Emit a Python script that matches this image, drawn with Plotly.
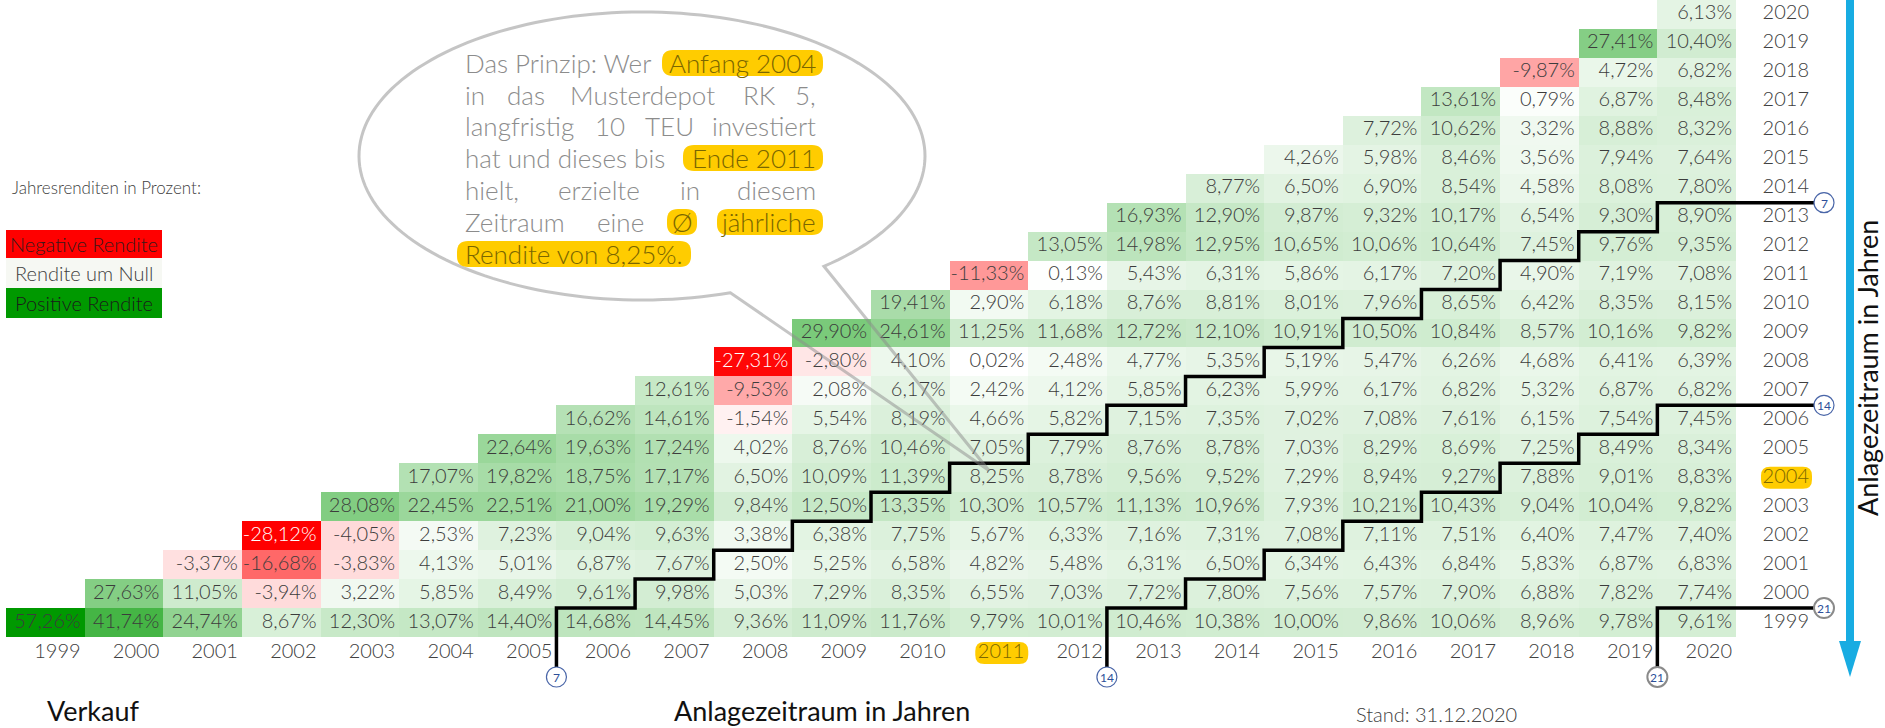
import numpy as np
import plotly.graph_objects as go

# ---------------- data ----------------
years = list(range(1999, 2021))          # Kaufjahr (Zeilen) / Verkaufsjahr (Spalten)
year_labels = [str(y) for y in years]

# durchschnittliche jährliche Rendite in %, je Kaufjahr, für Verkaufsjahr = Kaufjahr ... 2020
start_1999 = [57.26, 41.74, 24.74, 8.67, 12.30, 13.07, 14.40, 14.68, 14.45, 9.36, 11.09,
              11.76, 9.79, 10.01, 10.46, 10.38, 10.00, 9.86, 10.06, 8.96, 9.78, 9.61]
start_2000 = [27.63, 11.05, -3.94, 3.22, 5.85, 8.49, 9.61, 9.98, 5.03, 7.29, 8.35, 6.55,
              7.03, 7.72, 7.80, 7.56, 7.57, 7.90, 6.88, 7.82, 7.74]
start_2001 = [-3.37, -16.68, -3.83, 4.13, 5.01, 6.87, 7.67, 2.50, 5.25, 6.58, 4.82, 5.48,
              6.31, 6.50, 6.34, 6.43, 6.84, 5.83, 6.87, 6.83]
start_2002 = [-28.12, -4.05, 2.53, 7.23, 9.04, 9.63, 3.38, 6.38, 7.75, 5.67, 6.33, 7.16,
              7.31, 7.08, 7.11, 7.51, 6.40, 7.47, 7.40]
start_2003 = [28.08, 22.45, 22.51, 21.00, 19.29, 9.84, 12.50, 13.35, 10.30, 10.57, 11.13,
              10.96, 7.93, 10.21, 10.43, 9.04, 10.04, 9.82]
start_2004 = [17.07, 19.82, 18.75, 17.17, 6.50, 10.09, 11.39, 8.25, 8.78, 9.56, 9.52, 7.29,
              8.94, 9.27, 7.88, 9.01, 8.83]
start_2005 = [22.64, 19.63, 17.24, 4.02, 8.76, 10.46, 7.05, 7.79, 8.76, 8.78, 7.03, 8.29,
              8.69, 7.25, 8.49, 8.34]
start_2006 = [16.62, 14.61, -1.54, 5.54, 8.19, 4.66, 5.82, 7.15, 7.35, 7.02, 7.08, 7.61,
              6.15, 7.54, 7.45]
start_2007 = [12.61, -9.53, 2.08, 6.17, 2.42, 4.12, 5.85, 6.23, 5.99, 6.17, 6.82, 5.32,
              6.87, 6.82]
start_2008 = [-27.31, -2.80, 4.10, 0.02, 2.48, 4.77, 5.35, 5.19, 5.47, 6.26, 4.68, 6.41, 6.39]
start_2009 = [29.90, 24.61, 11.25, 11.68, 12.72, 12.10, 10.91, 10.50, 10.84, 8.57, 10.16, 9.82]
start_2010 = [19.41, 2.90, 6.18, 8.76, 8.81, 8.01, 7.96, 8.65, 6.42, 8.35, 8.15]
start_2011 = [-11.33, 0.13, 5.43, 6.31, 5.86, 6.17, 7.20, 4.90, 7.19, 7.08]
start_2012 = [13.05, 14.98, 12.95, 10.65, 10.06, 10.64, 7.45, 9.76, 9.35]
start_2013 = [16.93, 12.90, 9.87, 9.32, 10.17, 6.54, 9.30, 8.90]
start_2014 = [8.77, 6.50, 6.90, 8.54, 4.58, 8.08, 7.80]
start_2015 = [4.26, 5.98, 8.46, 3.56, 7.94, 7.64]
start_2016 = [7.72, 10.62, 3.32, 8.88, 8.32]
start_2017 = [13.61, 0.79, 6.87, 8.48]
start_2018 = [-9.87, 4.72, 6.82]
start_2019 = [27.41, 10.40]
start_2020 = [6.13]

rows_by_start = [start_1999, start_2000, start_2001, start_2002, start_2003, start_2004,
                 start_2005, start_2006, start_2007, start_2008, start_2009, start_2010,
                 start_2011, start_2012, start_2013, start_2014, start_2015, start_2016,
                 start_2017, start_2018, start_2019, start_2020]

holding_periods = [7, 14, 21]
example_start, example_end = 2004, 2011
legend_labels = ["Negative Rendite", "Rendite um Null", "Positive Rendite"]

# ---------------- styles / geometry ----------------
FONT = "Lato"
RED, WHITE, GREEN = "#FF0000", "#FFFFFF", "#009900"
YELLOW = "#FFCC00"
HL_TEXT = "#7a6600"
TXT = "#3c3c3c"
FIG_W, FIG_H = 1885, 728
TABLE_LEFT, TABLE_RIGHT, TABLE_TOP, TABLE_BOTTOM = 6, 1736, 0, 637
n = len(years)
W = (TABLE_RIGHT - TABLE_LEFT) / n
H = (TABLE_BOTTOM - TABLE_TOP) / n
PAD = 4


def dx(px):
    return years[0] - 0.5 + (px - TABLE_LEFT) / W


def dy(py):
    return years[-1] + 0.5 - (py - TABLE_TOP) / H


def px_x(d):
    return TABLE_LEFT + (d - (years[0] - 0.5)) * W


def px_y(d):
    return TABLE_TOP + (years[-1] + 0.5 - d) * H


def fmt(v):
    return f"{v:.2f}".replace('.', ',') + '%'


# matrix
z = [[None] * n for _ in range(n)]
for j, row in enumerate(rows_by_start):
    for k, v in enumerate(row):
        z[j][j + k] = v
vals = [v for row in rows_by_start for v in row]
zmin, zmax = min(vals), max(vals)
mid = (0 - zmin) / (zmax - zmin)

fig = go.Figure()
fig.add_trace(go.Heatmap(x=years, y=years, z=z, zmin=zmin, zmax=zmax,
                         colorscale=[[0, RED], [mid, WHITE], [1, GREEN]],
                         showscale=False, hoverinfo='skip'))

# cell texts (right aligned)
tx, ty, tt, tc = [], [], [], []
for j, row in enumerate(rows_by_start):
    for k, v in enumerate(row):
        tx.append(years[j + k] + 0.5 - PAD / W)
        ty.append(years[j])
        tt.append(fmt(v))
        tc.append('white' if v < -20 else TXT)
fig.add_trace(go.Scatter(x=tx, y=ty, text=tt, mode='text', textposition='middle left',
                         textfont=dict(family=FONT, size=20, color=tc, weight=300),
                         hoverinfo='skip', showlegend=False))

# bottom year labels (Verkaufsjahr)
fig.add_trace(go.Scatter(x=[y + 0.5 - PAD / W for y in years], y=[dy(653)] * n,
                         text=year_labels, mode='text', textposition='middle left',
                         textfont=dict(family=FONT, size=20, weight=300,
                                       color=[HL_TEXT if y == example_end else '#404040' for y in years]),
                         hoverinfo='skip', showlegend=False))
# right year labels (Kaufjahr)
fig.add_trace(go.Scatter(x=[dx(1809)] * n, y=years, text=year_labels, mode='text',
                         textposition='middle left',
                         textfont=dict(family=FONT, size=20, weight=300,
                                       color=[HL_TEXT if y == example_start else '#404040' for y in years]),
                         hoverinfo='skip', showlegend=False))

shapes = []
annotations = []


def pill(x0, x1, y0, y1, r=10, color=YELLOW, layer='above'):
    ry = min(r, (y1 - y0) / 2)
    rx = r
    p = (f"M {dx(x0 + rx)},{dy(y0)} L {dx(x1 - rx)},{dy(y0)} Q {dx(x1)},{dy(y0)} {dx(x1)},{dy(y0 + ry)} "
         f"L {dx(x1)},{dy(y1 - ry)} Q {dx(x1)},{dy(y1)} {dx(x1 - rx)},{dy(y1)} "
         f"L {dx(x0 + rx)},{dy(y1)} Q {dx(x0)},{dy(y1)} {dx(x0)},{dy(y1 - ry)} "
         f"L {dx(x0)},{dy(y0 + ry)} Q {dx(x0)},{dy(y0)} {dx(x0 + rx)},{dy(y0)} Z")
    shapes.append(dict(type='path', path=p, xref='x', yref='y', fillcolor=color,
                       line=dict(width=0), layer=layer))


def ann(text, px, py, size, color, xanchor='left', weight=300, angle=0):
    annotations.append(dict(text=text, x=dx(px), y=dy(py), xref='x', yref='y',
                            xanchor=xanchor, yanchor='middle', showarrow=False,
                            textangle=angle,
                            font=dict(family=FONT, size=size, color=color, weight=weight)))


# highlights of example labels
xr = px_x(example_end + 0.5) - PAD + 4
pill(xr - 53, xr, 642, 664, r=9, layer='below')
yc = px_y(example_start)
pill(1761, 1812, yc - 11, yc + 11, r=9, layer='below')

# staircase lines for holding periods
for N in holding_periods:
    b0 = years[0] + N - 1 + 0.5
    last = years[-1] - N
    pts = [(b0, dy(667))]
    for s in range(years[0], last + 1):
        xb = s + N - 1 + 0.5
        pts.append((xb, s + 0.5))
        if s < last:
            pts.append((xb + 1, s + 0.5))
    pts.append((dx(1814), last + 0.5))
    path = "M " + " L ".join(f"{a},{b}" for a, b in pts)
    shapes.append(dict(type='path', path=path, xref='x', yref='y',
                       line=dict(color='black', width=3.5), layer='above'))
    # circles with the number of years
    ring = '#8a8a8a' if N == 21 else '#4a66a8'
    lw = 2 if N == 21 else 1.2
    for cx, cy in [(px_x(b0), 677), (1824, px_y(last + 0.5))]:
        r = 10
        shapes.append(dict(type='circle', xref='x', yref='y', x0=dx(cx - r), x1=dx(cx + r),
                           y0=dy(cy + r), y1=dy(cy - r), fillcolor='white',
                           line=dict(color=ring, width=lw), layer='above'))
        ann(str(N), cx, cy + 0.5, 12, '#2d4f9a', xanchor='center', weight=400)

# blue arrow on the right
shapes.append(dict(type='line', xref='x', yref='y', x0=dx(1850), x1=dx(1850), y0=dy(0), y1=dy(642),
                   line=dict(color='#18ACE2', width=8), layer='above'))
shapes.append(dict(type='path', xref='x', yref='y',
                   path=f"M {dx(1839)},{dy(641)} L {dx(1861)},{dy(641)} L {dx(1850)},{dy(677)} Z",
                   fillcolor='#18ACE2', line=dict(width=0), layer='above'))

# speech bubble
cx_e, cy_e, rx_e, ry_e = 642, 156, 283, 144
tip = (px_x(example_end), px_y(example_start + 0.25))
th = np.radians(np.linspace(71.8, 410, 170))
ex = cx_e + rx_e * np.cos(th)
ey = cy_e + ry_e * np.sin(th)
bp = "M " + " L ".join(f"{dx(a)},{dy(b)}" for a, b in zip(ex, ey))
bp += f" L {dx(tip[0])},{dy(tip[1])} Z"
shapes.append(dict(type='path', path=bp, xref='x', yref='y',
                   line=dict(color='rgba(140,140,140,0.5)', width=3), layer='above'))

# bubble highlights
for (x0, x1, yy) in [(662, 823, 63), (683, 823, 158), (667, 697, 222), (717, 823, 222), (457, 691, 254)]:
    pill(x0, x1, yy - 13, yy + 13, r=11)

BT = '#8c8c8c'
BS = 26
lines_y = [63, 94.5, 126, 158, 190, 222, 254]
bubble_words = [
    [("Das Prinzip: Wer", 463, 'left', False), ("Anfang 2004", 818, 'right', True)],
    [("in", 463, 'left', False), ("das", 505, 'left', False), ("Musterdepot", 568, 'left', False),
     ("RK", 741, 'left', False), ("5,", 818, 'right', False)],
    [("langfristig", 463, 'left', False), ("10", 593, 'left', False), ("TEU", 643, 'left', False),
     ("investiert", 818, 'right', False)],
    [("hat und dieses bis", 463, 'left', False), ("Ende 2011", 818, 'right', True)],
    [("hielt,", 463, 'left', False), ("erzielte", 556, 'left', False), ("in", 678, 'left', False),
     ("diesem", 818, 'right', False)],
    [("Zeitraum", 463, 'left', False), ("eine", 595, 'left', False), ("Ø", 682, 'center', True),
     ("jährliche", 818, 'right', True)],
    [("Rendite von 8,25%.", 463, 'left', True)],
]
for yy, words in zip(lines_y, bubble_words):
    for w, xx, anc, hl in words:
        ann(w, xx, yy, BS, HL_TEXT if hl else BT, xanchor=anc)

# legend (left)
ann("Jahresrenditen in Prozent:", 10, 187, 17, '#404040')
leg_fill = [RED, '#F6F8F3', GREEN]
leg_txt = ['#3a1a1a', '#404040', '#1a1a1a']
leg_y = [(230, 258), (258, 288), (288, 318)]
for lab, f, tcol, (y0, y1) in zip(legend_labels, leg_fill, leg_txt, leg_y):
    shapes.append(dict(type='rect', xref='x', yref='y', x0=dx(6), x1=dx(162), y0=dy(y1), y1=dy(y0),
                       fillcolor=f, line=dict(width=0), layer='above'))
    ann(lab, 84, (y0 + y1) / 2, 20, tcol, xanchor='center')

# titles
ann("Verkauf", 93, 710, 27, '#111111', xanchor='center', weight=400)
ann("Anlagezeitraum in Jahren", 822, 710, 27, '#111111', xanchor='center', weight=400)
ann("Stand: 31.12.2020", 1436, 714, 20, '#404040', xanchor='center')
ann("Anlagezeitraum in Jahren", 1867, 368, 27, '#111111', xanchor='center', weight=400, angle=-90)

fig.update_layout(
    width=FIG_W, height=FIG_H, margin=dict(l=0, r=0, t=0, b=0),
    paper_bgcolor='white', plot_bgcolor='white', showlegend=False,
    xaxis=dict(range=[dx(0), dx(FIG_W)], visible=False, showgrid=False, zeroline=False),
    yaxis=dict(range=[dy(FIG_H), dy(0)], visible=False, showgrid=False, zeroline=False),
    shapes=shapes, annotations=annotations,
)
fig.write_html("out.html", config={'displayModeBar': False},
               post_script="document.body.style.margin='0';document.body.style.overflow='hidden';")
